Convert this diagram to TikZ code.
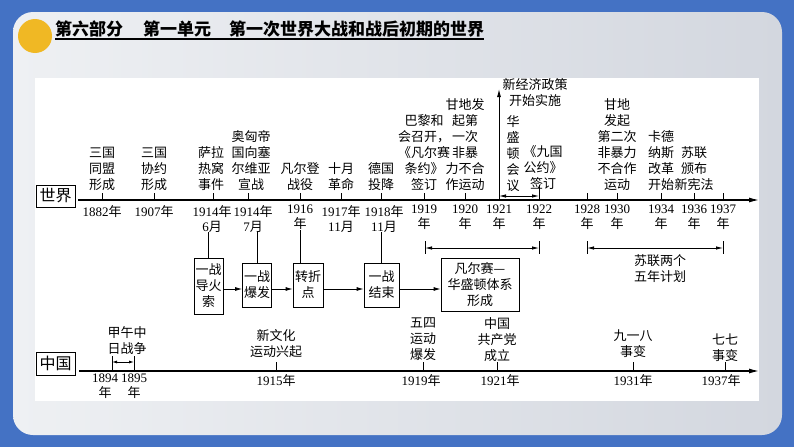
\documentclass[tikz,border=0pt]{standalone}
\usepackage{fontspec}
\setmainfont{Liberation Serif}
\newfontfamily\cjk{Noto Sans CJK SC}
\newfontfamily\lat{Liberation Serif}
\usetikzlibrary{arrows.meta,calc}
\definecolor{bgblue}{RGB}{68,114,196}
\definecolor{cardL}{RGB}{238,240,243}
\definecolor{cardR}{RGB}{211,215,223}
\definecolor{sun}{RGB}{240,184,36}
\newcommand\Y[1]{{\lat #1}}
\newcommand\evf{\cjk\fontsize{13}{16}\selectfont}
\newcommand\yrf{\cjk\fontsize{13}{15}\selectfont}
\begin{document}
\begin{tikzpicture}[x=1pt,y=-1pt,
  ev/.style={align=center,font=\evf,inner sep=0pt,anchor=south},
  plain/.style={align=center,font=\evf,inner sep=0pt},
  yl/.style={align=center,font=\yrf,inner sep=0pt,anchor=north},
  tickline/.style={line width=0.8pt},
  mainaxis/.style={line width=1.2pt,-{Latex[length=10pt,width=5pt]}},
  evbox/.style={draw,line width=0.8pt,align=center,font=\evf,inner sep=1pt},
  sidelab/.style={draw,line width=1pt,font=\cjk\fontsize{16}{16}\selectfont,minimum width=39pt,minimum height=22pt,inner sep=0pt},
  flowarrow/.style={line width=0.8pt,-{Latex[length=7pt,width=4pt]}},
  spanarrow/.style={line width=0.8pt,{Latex[length=7pt,width=3.5pt]}-{Latex[length=7pt,width=3.5pt]}},
  smallspan/.style={line width=0.8pt,{Latex[length=5pt,width=3pt]}-{Latex[length=5pt,width=3pt]}}
]
% background
\fill[bgblue] (0,0) rectangle (794,447);
\shade[rounded corners=20pt,left color=cardL,right color=cardR] (13,12) rectangle (782,435);
\fill[white] (35,78) rectangle (759,401);
\fill[sun] (35,36) circle (17pt);
\node[anchor=base west,inner sep=0pt,font=\cjk\bfseries\fontsize{17}{17}\selectfont] (title) at (55,35.5) {第六部分\hspace{20pt}第一单元\hspace{18pt}第一次世界大战和战后初期的世界};
\draw[line width=1.3pt] ([yshift=-1.5pt]title.south west) -- ([yshift=-1.5pt]title.south east);

% ===== world =====
\node[sidelab] (world) at (55.5,196) {世界};
\coordinate (wstart) at (78,200);
\coordinate (wend) at (759,200);
\draw[mainaxis] (wstart) -- (wend);

\foreach \i/\x/\lx/\t in {
  1882/102/102/{\Y{1882}年},
  1907/154/154/{\Y{1907}年},
  1914a/213/212/{\Y{1914}年\\\Y{6}月},
  1914b/248/253/{\Y{1914}年\\\Y{7}月},
  1916/300/300/{\Y{1916}\\年},
  1917/341/341/{\Y{1917}年\\\Y{11}月},
  1918/381/384/{\Y{1918}年\\\Y{11}月},
  1919/424/424/{\Y{1919}\\年},
  1920/465/465/{\Y{1920}\\年},
  1921/499/499/{\Y{1921}\\年},
  1922/539/539/{\Y{1922}\\年},
  1928/587/587/{\Y{1928}\\年},
  1930/617/617/{\Y{1930}\\年},
  1934/661/661/{\Y{1934}\\年},
  1936/694/694/{\Y{1936}\\年},
  1937/723/723/{\Y{1937}\\年}}{
  \coordinate (wt\i) at (\x,200);
  \node[yl] (wy\i) at (\lx,205) {\t};
}
\foreach \i in {1882,1907,1914a,1914b,1916,1917,1918,1919,1920,1928,1930,1934,1936,1937}{
  \draw[tickline] (wt\i) -- ++(0,-7);
}
\coordinate (w1922top) at (539,185);
\draw[tickline] (wt1922) -- (w1922top);

% world events
\node[ev] (e1882) at (102,191) {三国\\同盟\\形成};
\node[ev] (e1907) at (154,191) {三国\\协约\\形成};
\node[ev] (e1914a) at (211,191) {萨拉\\热窝\\事件};
\node[ev] (e1914b) at (251,191) {奥匈帝\\国向塞\\尔维亚\\宣战};
\node[ev] (e1916) at (300,191) {凡尔登\\战役};
\node[ev] (e1917) at (341,191) {十月\\革命};
\node[ev] (e1918) at (381,191) {德国\\投降};
\node[ev] (e1919) at (424,191) {巴黎和\\会召开，\\《凡尔赛\\条约》\\签订};
\node[ev] (e1920) at (465,191) {甘地发\\起第\\一次\\非暴\\力不合\\作运动};
\node[plain] (e1921a) at (535,93) {新经济政策\\开始实施};
\coordinate (neptip) at (499,89);
\draw[line width=0.9pt,-{Latex[length=8pt,width=4pt]}] (wt1921) -- (neptip);
\node[plain] (e1921b) at (513,154) {华\\盛\\顿\\会\\议};
\node[ev] (e1922) at (543,190) {《九国\\公约》\\签订};
\coordinate (ws1) at (499,196);
\coordinate (ws2) at (539,196);
\draw[spanarrow] (ws1) -- (ws2);
\node[ev] (e1930) at (617,191) {甘地\\发起\\第二次\\非暴力\\不合作\\运动};
\node[ev] (e1934) at (661,191) {卡德\\纳斯\\改革\\开始};
\node[ev] (e1936) at (694,191) {苏联\\颁布\\新宪法};

% range brackets
\coordinate (ra1) at (425,241); \coordinate (ra2) at (425,254);
\coordinate (rb1) at (539,241); \coordinate (rb2) at (539,254);
\coordinate (ram) at (425,248); \coordinate (rbm) at (539,248);
\draw[tickline] (ra1) -- (ra2);
\draw[tickline] (rb1) -- (rb2);
\draw[spanarrow] (ram) -- (rbm);
\coordinate (rc1) at (587,241); \coordinate (rc2) at (587,254);
\coordinate (rd1) at (723,241); \coordinate (rd2) at (723,254);
\coordinate (rcm) at (587,248); \coordinate (rdm) at (723,248);
\draw[tickline] (rc1) -- (rc2);
\draw[tickline] (rd1) -- (rd2);
\draw[spanarrow] (rcm) -- (rdm);
\node[plain] (plan) at (660,268.5) {苏联两个\\五年计划};

% boxes
\node[evbox,minimum width=29pt,minimum height=56pt] (b1) at (208.5,286) {一战\\导火\\索};
\node[evbox,minimum width=29pt,minimum height=44pt] (b2) at (257,285) {一战\\爆发};
\node[evbox,minimum width=30pt,minimum height=44pt] (b3) at (308,285) {转折\\点};
\node[evbox,minimum width=35pt,minimum height=44pt] (b4) at (381.5,285) {一战\\结束};
\node[evbox,minimum width=78pt,minimum height=53pt] (b5) at (480,284.5) {凡尔赛—\\华盛顿体系\\形成};
\draw[tickline] (b1.north) -- (b1.north |- wy1914a.south);
\draw[tickline] (b2.north) -- (b2.north |- wy1914b.south);
\draw[tickline] (wy1916.south) -- (wy1916.south |- b3.north);
\draw[tickline] (b4.north) -- (b4.north |- wy1918.south);
\coordinate (arow) at (0,289);
\draw[flowarrow] (b1.east |- arow) -- (b2.west |- arow);
\draw[flowarrow] (b2.east |- arow) -- (b3.west |- arow);
\draw[flowarrow] (b3.east |- arow) -- (b4.west |- arow);
\draw[flowarrow] (b4.east |- arow) -- (b5.west |- arow);

% ===== China =====
\node[sidelab,minimum height=23pt] (china) at (55.5,363.5) {中国};
\coordinate (cstart) at (79,371);
\coordinate (cend) at (759,371);
\draw[mainaxis] (cstart) -- (cend);
\foreach \i/\x in {1915/276,1919/423,1921/497,1931/633,1937/725}{
  \coordinate (ct\i) at (\x,371);
  \draw[tickline] (ct\i) -- ++(0,-9);
}
\foreach \i/\lx/\t in {
  1894/105/{\Y{1894}\\年},
  1895/134/{\Y{1895}\\年},
  1915/276/{\Y{1915}年},
  1919/421/{\Y{1919}年},
  1921/500/{\Y{1921}年},
  1931/633/{\Y{1931}年},
  1937/721/{\Y{1937}年}}{
  \node[yl] (cy\i) at (\lx,374) {\t};
}
\coordinate (cj1) at (112,356); \coordinate (cj2) at (112,371);
\coordinate (cj3) at (134,356); \coordinate (cj4) at (134,371);
\coordinate (cjm1) at (112,362); \coordinate (cjm2) at (134,362);
\draw[tickline] (cj1) -- (cj2);
\draw[tickline] (cj3) -- (cj4);
\draw[smallspan] (cjm1) -- (cjm2);
\node[ev] (c1894) at (127,355) {甲午中\\日战争};
\node[ev] (c1915) at (276,358) {新文化\\运动兴起};
\node[ev] (c1919) at (423,361) {五四\\运动\\爆发};
\node[ev] (c1921) at (497,362) {中国\\共产党\\成立};
\node[ev] (c1931) at (633,358) {九一八\\事变};
\node[ev] (c1937) at (725,362) {七七\\事变};
\end{tikzpicture}
\end{document}
